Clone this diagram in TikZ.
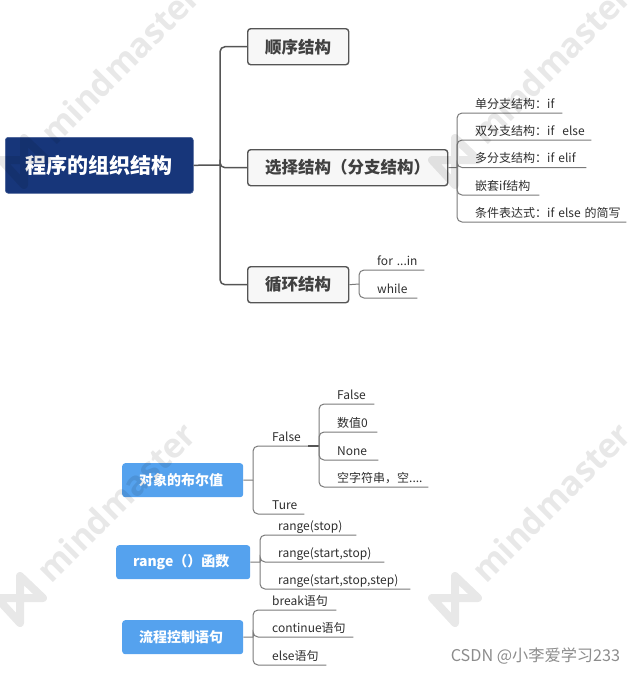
\documentclass[tikz,border=0pt]{standalone}
\usepackage{fontspec}
\setmainfont{Noto Sans CJK SC}
\newfontfamily\wmfont{Open Sans}
\definecolor{rootblue}{HTML}{17367A}
\definecolor{subblue}{HTML}{55A2EE}
\definecolor{linegray}{HTML}{555555}
\definecolor{leafgray}{HTML}{7A7A7A}
\definecolor{txtgray}{HTML}{404040}
\newcommand{\fs}[1]{\fontsize{#1}{#1}\selectfont}
\tikzset{
  rootbox/.style={draw=rootblue!80!white,fill=rootblue,rounded corners=3,text=white,font=\fs{21}\bfseries,inner sep=0pt,minimum width=188,minimum height=56,anchor=north west,line width=.6},
  topicbox/.style={draw=linegray,fill=black!3,rounded corners=3,text=txtgray,font=\fs{16.5},inner sep=0pt,minimum height=36,line width=1.4,anchor=north west},
  subbox/.style={fill=subblue,rounded corners=3,text=white,font=\fs{14}\bfseries,inner sep=0pt,minimum height=34,anchor=north west},
  leaf/.style={inner xsep=0pt,inner ysep=1.5pt,anchor=south west,align=left,text=black!82,font=\fs{12},text height=9,text depth=3},
  conn/.style={draw=linegray,line width=1.5,rounded corners=5},
  thin conn/.style={draw=leafgray,line width=1,rounded corners=5},
  wmtext/.style={text=black,font=\wmfont\bfseries\fs{34},rotate=45,inner sep=0pt,opacity=.09},
  wmlogo/.style={draw=black,line width=8,opacity=.09,line cap=round,line join=round},
}
% \leafnode{name}{x0}{x1}{y}{text}
\newcommand{\leafnode}[5]{\pgfmathsetmacro{\leafw}{#3-#2}\node[leaf,text width=\leafw pt] (#1) at (#2,#4) {\hspace*{9pt}#5};}
\newcommand{\wmark}[3]{%
  \begin{scope}[shift={(#1,#2)}]
    \node[wmtext,anchor=west] (wm#3) at (22,-22) {mindmaster};
    \draw[wmlogo] (0,-22) -- (0,25) -- (-23,0) -- (23,0) -- cycle;
  \end{scope}}
\begin{document}
\begin{tikzpicture}[x=1pt,y=-1pt]
\useasboundingbox (0,0) rectangle (635,673);
% main boxes
\node[rootbox] (root) at (5,137) {程序的组织结构};
\node[topicbox,minimum width=101] (t1) at (247,28) {\textbf{顺序结构}};
\node[topicbox,minimum width=200] (t2) at (247,149) {\textbf{选择结构（分支结构）}};
\node[topicbox,minimum width=101] (t3) at (247,266) {\textbf{循环结构}};
\coordinate (sp0) at (220,165);
\draw[conn] (root.east) -- (sp0);
\draw[conn] (sp0) |- (t1.west);
\draw[conn] (sp0) |- (t2.west);
\draw[conn] (sp0) |- (t3.west);
% selection leaves
\leafnode{a1}{466}{562}{113}{单分支结构：if}
\leafnode{a2}{466}{591}{140}{双分支结构：if\ \ else}
\leafnode{a3}{466}{586}{167.5}{多分支结构：if elif}
\leafnode{a4}{466}{539}{195}{嵌套if结构}
\leafnode{a5}{466}{626}{222}{条件表达式：if else 的简写}
\coordinate (sp1) at (457,167.5);
\draw[thin conn] (t2.east) -- (sp1);
\foreach \n in {a1,a2,a3,a4,a5}{\draw[thin conn] (sp1) |- (\n.south east);}
% loop leaves
\leafnode{b1}{368}{424}{270}{for ...in}
\leafnode{b2}{368}{417}{298}{while}
\coordinate (sp2) at (359,284);
\draw[thin conn] (t3.east) -- (sp2);
\foreach \n in {b1,b2}{\draw[thin conn] (sp2) |- (\n.south east);}
% lower left boxes
\node[subbox,minimum width=121] (s1) at (122,463) {\hspace*{-3pt}对象的布尔值};
\node[subbox,minimum width=134] (s2) at (116,545) {\hspace*{-4pt}range（）函数};
\node[subbox,minimum width=121] (s3) at (122,620) {\hspace*{-3pt}流程控制语句};
% bool
\leafnode{c1}{263}{308}{446}{False}
\leafnode{c2}{263}{304}{514}{Ture}
\coordinate (sp3) at (253,480);
\draw[thin conn] (s1.east) -- (sp3);
\foreach \n in {c1,c2}{\draw[thin conn] (sp3) |- (\n.south east);}
\leafnode{d1}{328}{374}{404}{False}
\leafnode{d2}{328}{377}{432}{数值0}
\leafnode{d3}{328}{378}{460}{None}
\leafnode{d4}{328}{428}{487}{空字符串，空....}
\coordinate (sp4) at (319,446);
\draw[conn] (c1.south east) -- (sp4);
\foreach \n in {d1,d2,d3,d4}{\draw[thin conn] (sp4) |- (\n.south east);}
% range
\leafnode{e1}{269}{356}{535}{range(stop)}
\leafnode{e2}{269}{384}{562}{range(start,stop)}
\leafnode{e3}{269}{410}{589}{range(start,stop,step)}
\coordinate (sp5) at (260,562);
\draw[thin conn] (s2.east) -- (sp5);
\foreach \n in {e1,e2,e3}{\draw[thin conn] (sp5) |- (\n.south east);}
% control
\leafnode{f1}{263}{336}{610}{break语句}
\leafnode{f2}{263}{353}{637}{continue语句}
\leafnode{f3}{263}{326}{665}{else语句}
\coordinate (sp6) at (253,637);
\draw[thin conn] (s3.east) -- (sp6);
\foreach \n in {f1,f2,f3}{\draw[thin conn] (sp6) |- (\n.south east);}
% credit
\node[anchor=center,text=black!45,font=\fs{16.2}] (credit) at (535.5,656) {CSDN @小李爱学习233};
% watermarks
\begin{scope}
\clip (0,0) rectangle (635,673);
\wmark{24}{160}{a}
\wmark{455}{160}{b}
\wmark{20}{598}{c}
\wmark{455}{598}{d}
\end{scope}
\end{tikzpicture}
\end{document}
